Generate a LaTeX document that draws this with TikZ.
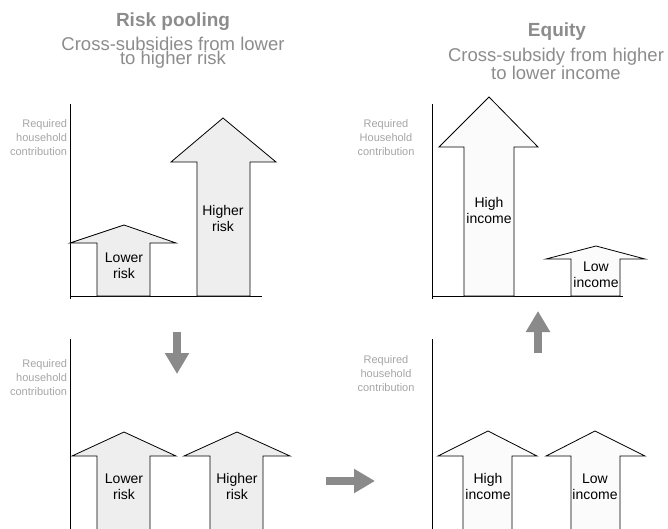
\documentclass[tikz,border=0pt]{standalone}
\usepackage{fontspec}
\setmainfont{Liberation Sans}
\usetikzlibrary{arrows.meta}
\definecolor{titlegray}{RGB}{140,140,140}
\definecolor{axisgray}{RGB}{165,165,165}
\definecolor{flowgray}{RGB}{138,138,138}
\definecolor{riskfill}{RGB}{238,238,238}
\definecolor{incomefill}{RGB}{251,251,251}

\begin{document}
\begin{tikzpicture}[
		x=1pt, y=-1pt,
		every node/.style={inner sep=0pt, outer sep=0pt},
		title/.style={font=\bfseries\fontsize{19}{22}\selectfont, text=titlegray, anchor=base},
		subtitle/.style={font=\fontsize{18.5}{13}\selectfont, text=titlegray, align=center, anchor=base},
		axislabel/.style={font=\fontsize{11}{14}\selectfont, text=axisgray, anchor=base},
		armlabel/.style={font=\fontsize{14}{16.5}\selectfont, align=center, anchor=base},
		axisline/.style={draw=black, line width=0.8pt},
		riskarrow/.style={draw=black, line width=0.8pt, fill=riskfill},
		incomearrow/.style={draw=black, line width=0.8pt, fill=incomefill},
		flowarrow/.style={draw=flowgray, line width=8pt, -{Triangle[length=21pt,width=23pt]}}
		]
		
		\useasboundingbox (0,0) rectangle (668,529);
		
		% Titles
		\node[title] (risktitle) at (173,27) {Risk pooling};
		\node[subtitle] (risksub) at (173,65) {Cross-subsidies from lower\\to higher risk};
		\node[title] (equitytitle) at (557,37) {Equity};
		\node[subtitle] (equitysub) at (556,80) {Cross-subsidy from higher\\to lower income};
		
		% Risk pooling, before
		\draw[axisline] (70,104) -- (70,299);
		\draw[axisline] (70,296) -- (262,296);
		\node[axislabel, align=right, anchor=base east] (ylabel1) at (67,156) {Required\\household\\contribution};
		\draw[riskarrow] (97,296) -- (97,243) -- (70,243) -- (124,225) -- (176,243) -- (150,243) -- (150,296) -- cycle;
		\draw[riskarrow] (197,296) -- (197,162) -- (171,162) -- (223,118) -- (276,162) -- (250,162) -- (250,296) -- cycle;
		\node[armlabel] (lower1) at (124,278.5) {Lower\\risk};
		\node[armlabel] (higher1) at (223,231.5) {Higher\\risk};
		
		% Risk pooling, after
		\draw[axisline] (70,339) -- (70,532);
		\node[axislabel, align=right, anchor=base east] (ylabel2) at (67,395) {Required\\household\\contribution};
		\draw[riskarrow] (97,532) -- (97,456) -- (72,456) -- (124,432) -- (176,456) -- (150,456) -- (150,532) -- cycle;
		\draw[riskarrow] (210,532) -- (210,456) -- (184,456) -- (237,432) -- (290,456) -- (263,456) -- (263,532) -- cycle;
		\node[armlabel] (lower2) at (124,499.5) {Lower\\risk};
		\node[armlabel] (higher2) at (237,499.5) {Higher\\risk};
		
		% Equity, before
		\draw[axisline] (432,339) -- (432,532);
		\node[axislabel, align=center] (ylabel3) at (386,391) {Required\\household\\contribution};
		\draw[incomearrow] (463,532) -- (463,456) -- (438,456) -- (488,431) -- (537,456) -- (512,456) -- (512,532) -- cycle;
		\draw[incomearrow] (571,532) -- (571,456) -- (546,456) -- (595,431) -- (645,456) -- (620,456) -- (620,532) -- cycle;
		\node[armlabel] (high2) at (488,499.5) {High\\income};
		\node[armlabel] (low2) at (595,499.5) {Low\\income};
		
		% Equity, after
		\draw[axisline] (432,104) -- (432,299);
		\draw[axisline] (432,296) -- (623,296);
		\node[axislabel, align=center] (ylabel4) at (386,156) {Required\\Household\\contribution};
		\draw[incomearrow] (464,296) -- (464,147) -- (439,147) -- (489,97) -- (538,147) -- (514,147) -- (514,296) -- cycle;
		\draw[incomearrow] (571,296) -- (571,259) -- (546,259) -- (596,246) -- (645,259) -- (620,259) -- (620,296) -- cycle;
		\node[armlabel] (high1) at (489,223.5) {High\\income};
		\node[armlabel] (low1) at (596,287.5) {Low\\income};
		
		% Steps between panels
		\coordinate (downstart) at (177,332);
		\coordinate (downend) at (177,374);
		\coordinate (rightstart) at (326,481);
		\coordinate (rightend) at (375,481);
		\coordinate (upstart) at (538,353);
		\coordinate (upend) at (538,311);
		\draw[flowarrow] (downstart) -- (downend);
		\draw[flowarrow] (rightstart) -- (rightend);
		\draw[flowarrow] (upstart) -- (upend);
		
	\end{tikzpicture}
\end{document}
